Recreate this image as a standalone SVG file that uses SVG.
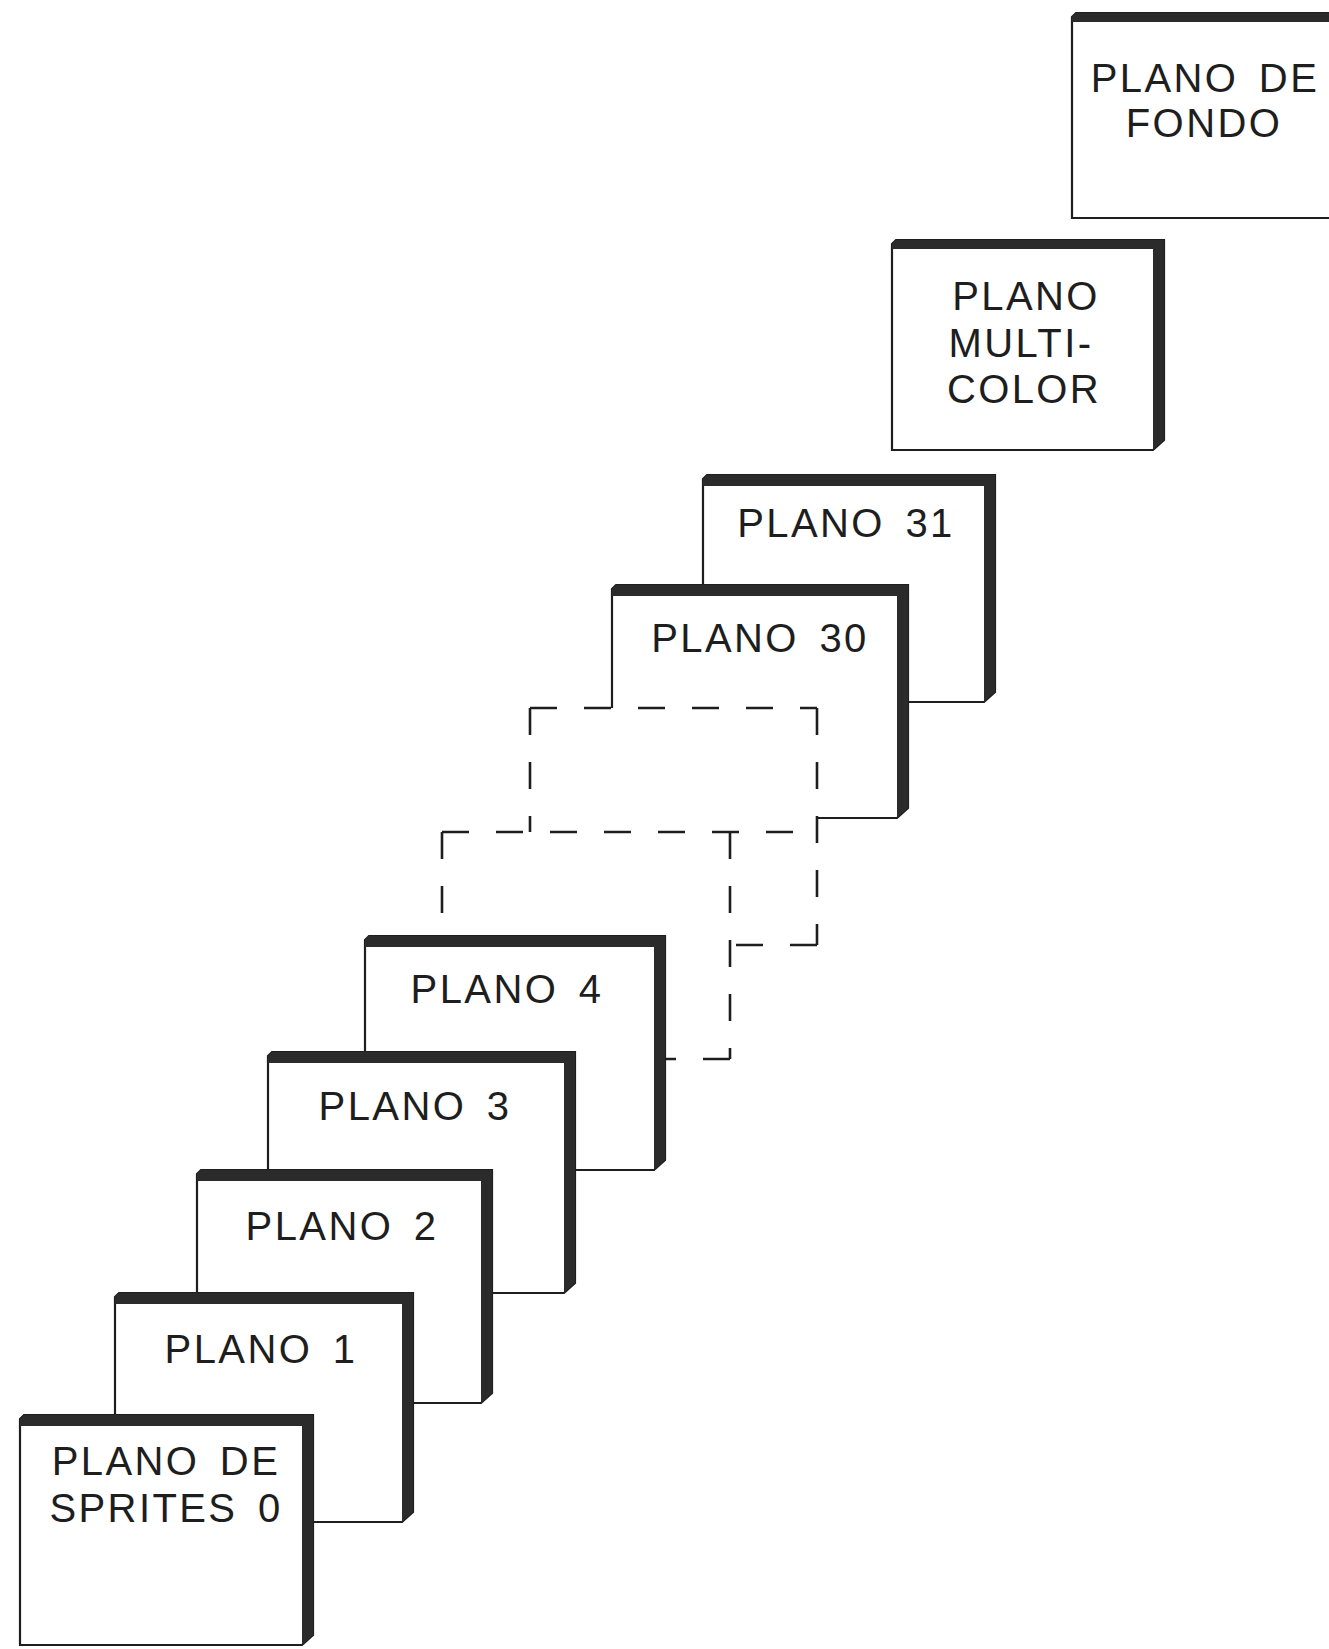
<svg xmlns="http://www.w3.org/2000/svg" width="1329" height="1649" viewBox="0 0 1329 1649">
<style>
.face{fill:#fff;stroke:#1e1e1e;stroke-width:2.2}
.band{fill:#2b2b2b}
.dash{fill:none;stroke:#1e1e1e;stroke-width:2.6;stroke-dasharray:27 27}
.ghost{fill:#fff;stroke:none}
text{font-family:"Liberation Sans",Arial,sans-serif;font-size:40px;fill:#1e1e1e;text-anchor:middle;letter-spacing:2.4px;word-spacing:7px}
</style>
<rect x="0" y="0" width="1329" height="1649" fill="#fff"/>

<g id="plano-fondo">
<path class="face" d="M1072,17 L1076,13 H1345 V208 L1334,218 H1072 Z"/>
<polygon class="band" points="1072,17 1076,13 1345,13 1345,22 1072,22"/>
<text x="1205" y="92">PLANO DE</text>
<text x="1204" y="137">FONDO</text>
</g>

<g id="plano-multicolor">
<path class="face" d="M892,244 L896,240 H1164 V440 L1153,450 H892 Z"/>
<polygon class="band" points="892,244 896,240 1164,240 1164,440 1153,450 1153,249 892,249"/>
<text x="1026" y="310">PLANO</text>
<text x="1021" y="357">MULTI-</text>
<text x="1024" y="403">COLOR</text>
</g>

<g id="plano-31">
<path class="face" d="M703,479 L707,475 H995 V692 L984,702 H703 Z"/>
<polygon class="band" points="703,479 707,475 995,475 995,692 984,702 984,486 703,486"/>
<text x="846" y="537">PLANO 31</text>
</g>

<g id="plano-30">
<path class="face" d="M612,589 L616,585 H908 V808 L897,818 H612 Z"/>
<polygon class="band" points="612,589 616,585 908,585 908,808 897,818 897,596 612,596"/>
<text x="760" y="652">PLANO 30</text>
</g>

<g id="plano-oculto-a">
<rect class="ghost" x="530" y="708" width="287" height="237"/>
<path class="dash" d="M530,708 H817"/>
<path class="dash" d="M817,708 V945"/>
<path class="dash" d="M530,708 V832"/>
<path class="dash" d="M817,945 H730"/>
</g>

<g id="plano-oculto-b">
<rect class="ghost" x="442" y="832" width="288" height="227"/>
<path class="dash" d="M442,832 H817"/>
<path class="dash" d="M442,832 V936"/>
<path class="dash" d="M730,832 V1059"/>
<path class="dash" d="M730,1059 H665"/>
</g>

<g id="plano-4">
<path class="face" d="M365,940 L369,936 H665 V1160 L654,1170 H365 Z"/>
<polygon class="band" points="365,940 369,936 665,936 665,1160 654,1170 654,947 365,947"/>
<text x="507" y="1003">PLANO 4</text>
</g>

<g id="plano-3">
<path class="face" d="M268,1056 L272,1052 H575 V1283 L564,1293 H268 Z"/>
<polygon class="band" points="268,1056 272,1052 575,1052 575,1283 564,1293 564,1063 268,1063"/>
<text x="415" y="1120">PLANO 3</text>
</g>

<g id="plano-2">
<path class="face" d="M197,1174 L201,1170 H492 V1393 L481,1403 H197 Z"/>
<polygon class="band" points="197,1174 201,1170 492,1170 492,1393 481,1403 481,1181 197,1181"/>
<text x="342" y="1240">PLANO 2</text>
</g>

<g id="plano-1">
<path class="face" d="M115,1297 L119,1293 H413 V1512 L402,1522 H115 Z"/>
<polygon class="band" points="115,1297 119,1293 413,1293 413,1512 402,1522 402,1304 115,1304"/>
<text x="261" y="1363">PLANO 1</text>
</g>

<g id="plano-sprites-0">
<path class="face" d="M20,1419 L24,1415 H313 V1635 L302,1645 H20 Z"/>
<polygon class="band" points="20,1419 24,1415 313,1415 313,1635 302,1645 302,1426 20,1426"/>
<text x="166" y="1475">PLANO DE</text>
<text x="166" y="1522">SPRITES 0</text>
</g>

<g id="connectors"></g>
</svg>
